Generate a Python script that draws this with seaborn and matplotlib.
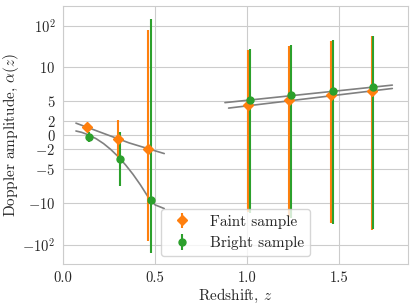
import numpy as np
import pandas as pd
import matplotlib
matplotlib.use("Agg")
import matplotlib.pyplot as plt
import seaborn as sns

# Данные: красное смещение и амплитуда
faint_z = [0.132, 0.300, 0.464, 1.007, 1.230, 1.457, 1.678]
faint_alpha = [1.24, -0.5, -2.0, 4.43, 5.07, 5.8, 6.4]
faint_err = [0.6, 2.7, 79, 21, 27, 36, 50]

bright_z = [0.143, 0.310, 0.477, 1.016, 1.239, 1.466, 1.687]
bright_alpha = [-0.25, -3.48, -9.45, 5.07, 5.8, 6.46, 7.06]
bright_err = [0.7, 3.9, 155, 22, 28, 38, 48]

# Модельные кривые
faint_low_z = [0.07, 0.20, 0.36, 0.47, 0.55]
faint_low_alpha = [1.75, 0.45, -1.15, -2.05, -2.7]
bright_low_z = [0.07, 0.10, 0.14, 0.18, 0.22, 0.26, 0.30, 0.34, 0.38, 0.42, 0.46, 0.50, 0.55]
bright_low_alpha = [0.60, 0.41, 0.02, -0.53, -1.24, -2.12, -3.16, -4.37, -5.73, -7.26, -8.95, -10.8, -13.3]
faint_high_z = [0.90, 1.79]
faint_high_alpha = [3.95, 6.82]
bright_high_z = [0.88, 1.79]
bright_high_alpha = [4.75, 7.31]

yticks = [-100, -10, -5, -2, 0, 2, 5, 10, 100]
ytick_labels = [r'$-10^2$', r'$-10$', r'$-5$', r'$-2$', r'$0$', r'$2$', r'$5$', r'$10$', r'$10^2$']

sns.set_style("whitegrid")
plt.rcParams['font.family'] = 'serif'
plt.rcParams['font.serif'] = ['cmr10']
plt.rcParams['mathtext.fontset'] = 'cm'
plt.rcParams['axes.formatter.use_mathtext'] = True

fig, ax = plt.subplots(figsize=(4.15, 3.06), dpi=100)
fig.subplots_adjust(left=0.152, right=0.983, top=0.980, bottom=0.137)

for zz, aa in [(faint_low_z, faint_low_alpha), (bright_low_z, bright_low_alpha),
               (faint_high_z, faint_high_alpha), (bright_high_z, bright_high_alpha)]:
    sns.lineplot(x=zz, y=aa, ax=ax, color='grey', lw=1.2, sort=False, estimator=None)

ax.errorbar(faint_z, faint_alpha, yerr=faint_err, fmt='D', color='C1', ms=5,
            elinewidth=1.5, label='Faint sample')
ax.errorbar(bright_z, bright_alpha, yerr=bright_err, fmt='o', color='C2', ms=5,
            elinewidth=1.5, label='Bright sample')

ax.set_yscale('symlog', linthresh=10, linscale=1.5)
ax.set_ylim(-300, 300)
ax.set_xlim(0, 1.875)
ax.set_yticks(yticks)
ax.set_yticklabels(ytick_labels)
ax.yaxis.set_minor_locator(matplotlib.ticker.NullLocator())
ax.set_xticks([0.0, 0.5, 1.0, 1.5])
ax.set_xticklabels(['0.0', '0.5', '1.0', '1.5'])
ax.tick_params(labelsize=10.5, pad=2)

ax.set_xlabel(r'Redshift, $z$', fontsize=11, labelpad=1)
ax.set_ylabel(r'Doppler amplitude, $\alpha(z)$', fontsize=11, labelpad=1)
ax.legend(loc='lower center', fontsize=11)

plt.savefig('out.png', dpi=100)
plt.close()
